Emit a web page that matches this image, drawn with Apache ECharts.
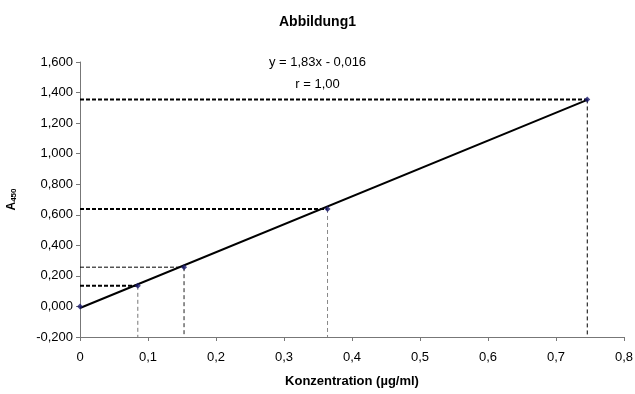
<!DOCTYPE html>
<html><head><meta charset="utf-8">
<script src="https://cdn.jsdelivr.net/npm/echarts@6/dist/echarts.min.js"></script>
<style>html,body{margin:0;padding:0;background:#fff}#c{width:635px;height:394px}</style>
</head><body><div id="c"></div>
<script>
var conc = [0, 0.085, 0.153, 0.364, 0.746];
var absorb = [0, 0.135, 0.257, 0.638, 1.355];
var trendX = [0, 0.746];
var trendY = [-0.01, 1.352];
var yTicks = [-0.2, 1.6, 0.2];
var xTicks = [0, 0.8, 0.1];
var equationText = 'y = 1,83x - 0,016';
var rText = 'r = 1,00';

var hStyle = [null, {w:2, c:'#000', d:[4,2]}, {w:1, c:'#000', d:[4,2]}, {w:2, c:'#000', d:[4,2]}, {w:2, c:'#000', d:[4,2]}];
var vStyle = [null, {w:1, c:'#777', d:[4,3]}, {w:1, c:'#222', d:[4,3]}, {w:1, c:'#888', d:[4,3]}, {w:1, c:'#000', d:[4,3]}];

var series = [];
for (var i = 1; i < conc.length; i++) {
  series.push({type:'line', data:[[0, absorb[i]],[conc[i], absorb[i]]], symbol:'none', silent:true,
    lineStyle:{width:hStyle[i].w, color:hStyle[i].c, type:hStyle[i].d}, z:1});
  series.push({type:'line', data:[[conc[i], absorb[i]],[conc[i], yTicks[0]]], symbol:'none', silent:true,
    lineStyle:{width:vStyle[i].w, color:vStyle[i].c, type:vStyle[i].d}, z:1});
}
series.push({type:'line', data:trendX.map(function(x,i){return [x, trendY[i]];}), symbol:'none',
  lineStyle:{width:2, color:'#000'}, z:2});
series.push({type:'scatter', data:conc.map(function(x,i){return [x, absorb[i]];}), symbol:'diamond',
  symbolSize:6, itemStyle:{color:'#1a1a6e'}, z:3});

var F = 'Liberation Sans, Arial, sans-serif';
var chart = echarts.init(document.getElementById('c'));
chart.setOption({
  animation:false,
  textStyle:{fontFamily:F},
  title:{text:'Abbildung1', left:'center', top:10, textStyle:{fontSize:14, fontWeight:'bold', color:'#000', fontFamily:F}},
  graphic:[
    {type:'text', left:'center', top:56, style:{text:equationText, fontSize:13, fill:'#000', fontFamily:F}},
    {type:'text', left:'center', top:78, style:{text:rText, fontSize:13, fill:'#000', fontFamily:F}}
  ],
  grid:{left:80, right:11, top:62, bottom:57, containLabel:false, outerBoundsMode:'none'},
  xAxis:{type:'value', min:xTicks[0], max:xTicks[1], interval:xTicks[2],
    name:'Konzentration (µg/ml)', nameLocation:'middle', nameGap:38,
    nameTextStyle:{fontSize:13, fontWeight:'bold', color:'#000', fontFamily:F},
    axisLine:{onZero:false, lineStyle:{color:'#777', width:1}},
    axisTick:{show:true, length:4, lineStyle:{color:'#777'}},
    splitLine:{show:false},
    axisLabel:{fontSize:13, color:'#000', margin:14, fontFamily:F,
      formatter:function(v){return v===0?'0':(Math.round(v*10)/10).toString().replace('.',',');}}
  },
  yAxis:{type:'value', min:yTicks[0], max:yTicks[1], interval:yTicks[2],
    name:'{a|A}{s|450}', nameLocation:'middle', nameGap:62, nameRotate:90,
    nameTextStyle:{rich:{a:{fontSize:12, fontWeight:'bold', color:'#000', fontFamily:F},
      s:{fontSize:8, fontWeight:'bold', color:'#000', verticalAlign:'bottom', padding:[4,0,0,0], fontFamily:F}}},
    axisLine:{show:true, onZero:false, lineStyle:{color:'#777', width:1}},
    axisTick:{show:true, length:4, lineStyle:{color:'#777'}},
    splitLine:{show:false},
    axisLabel:{fontSize:13, color:'#000', margin:7, fontFamily:F,
      formatter:function(v){return v.toFixed(3).replace('.',',');}}
  },
  series:series
});
</script></body></html>
